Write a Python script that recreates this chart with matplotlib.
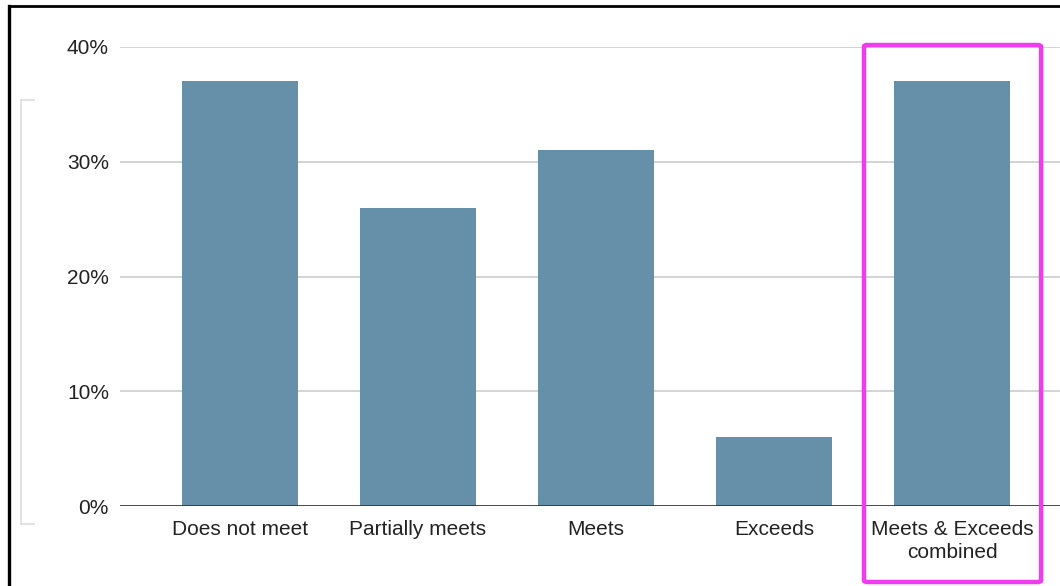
import numpy as np
import matplotlib.pyplot as plt
from matplotlib.patches import FancyBboxPatch
from matplotlib.lines import Line2D

plt.rcParams['font.family'] = ['Liberation Sans', 'DejaVu Sans']

# share of students at each performance level (%)
levels = ['Does not meet', 'Partially meets', 'Meets', 'Exceeds', 'Meets & Exceeds\ncombined']
share = [37, 26, 31, 6, 37]
y_ticks = [0, 10, 20, 30, 40]
y_labels = ['0%', '10%', '20%', '30%', '40%']

bar_col = '#6690aa'

fig = plt.figure(figsize=(10.6, 5.86), dpi=100)
ax = fig.add_axes([120/1060, 80/586, 940/1060, 459/586])

x = np.arange(len(levels))
ax.bar(x, share, width=0.65, color=bar_col, zorder=3)

ax.set_ylim(0, 40)
ax.set_xlim(-0.674, 4.607)
ax.set_yticks(y_ticks)
ax.set_yticklabels(y_labels)
ax.set_xticks(x)
ax.set_xticklabels(levels, linespacing=1.3)
ax.tick_params(axis='both', length=0, labelsize=15, colors='#222222')
ax.tick_params(axis='y', pad=8)
ax.tick_params(axis='x', pad=10)
ax.yaxis.grid(True, color='#cccccc', linewidth=1.2, zorder=0)
for s in ax.spines.values():
    s.set_visible(False)
ax.axhline(0, color='#333333', linewidth=1.2, zorder=4)

# highlight box round the combined bar (figure pixels)
W, H = 1060, 586
box = FancyBboxPatch((864/W, (586-582)/H), 177/W, 537/H,
                     boxstyle='round,pad=0,rounding_size=0.003',
                     transform=fig.transFigure, fill=False,
                     edgecolor='#ee3cee', linewidth=3.2, zorder=10)
fig.add_artist(box)

# faint bracket at left
bc = '#dddddd'
fig.add_artist(Line2D([21/W, 21/W], [(586-100)/H, (586-524)/H], color=bc, lw=1.2))
fig.add_artist(Line2D([21/W, 34/W], [(586-100)/H, (586-100)/H], color=bc, lw=1.2))
fig.add_artist(Line2D([21/W, 34/W], [(586-524)/H, (586-524)/H], color=bc, lw=1.2))

# black frame on left and top
fig.add_artist(Line2D([9/W, 9/W], [0, (586-6)/H], color='black', lw=2.4))
fig.add_artist(Line2D([9/W, 1], [(586-6)/H, (586-6)/H], color='black', lw=2.0))

fig.savefig('out.png', dpi=100)
